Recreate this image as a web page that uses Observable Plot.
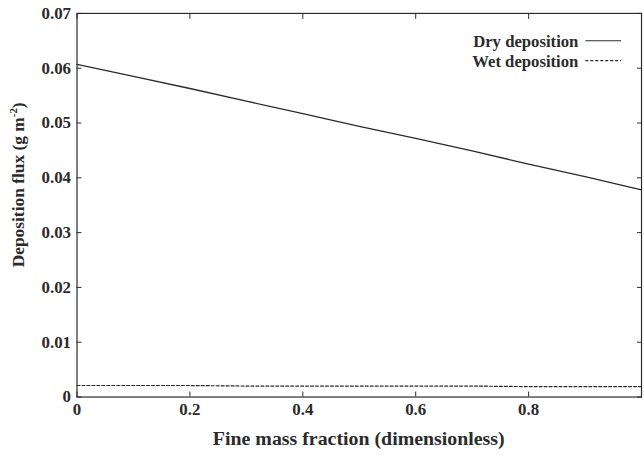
<!DOCTYPE html>
<html>
<head>
<meta charset="utf-8">
<script src="https://cdn.jsdelivr.net/npm/d3@7"></script>
<script src="https://cdn.jsdelivr.net/npm/@observablehq/plot@0.6"></script>
<style>
  html, body { margin: 0; padding: 0; background: #fff; overflow: hidden; }
  #chart { width: 644px; height: 455px; overflow: hidden; }
  svg { font-family: "Liberation Serif", "Times New Roman", serif; }
</style>
</head>
<body>
<div id="chart"></div>
<script>
const fraction = [0, 0.1, 0.2, 0.3, 0.4, 0.5, 0.6, 0.7, 0.8, 0.9, 1.0];
const dryDeposition = [0.0607, 0.0585, 0.0563, 0.0540, 0.0517, 0.0494, 0.0472, 0.0449, 0.0425, 0.0402, 0.0378];
const wetDeposition = [0.0021, 0.0021, 0.0021, 0.0020, 0.0020, 0.0020, 0.0020, 0.0020, 0.0019, 0.0019, 0.0019];
const seriesNames = ["Dry deposition", "Wet deposition"];
const xTicks = [0, 0.2, 0.4, 0.6, 0.8];
const xTickLabels = ["0", "0.2", "0.4", "0.6", "0.8"];
const yTicks = [0, 0.01, 0.02, 0.03, 0.04, 0.05, 0.06, 0.07];
const yTickLabels = ["0", "0.01", "0.02", "0.03", "0.04", "0.05", "0.06", "0.07"];
const xTitle = "Fine mass fraction (dimensionless)";
const yTitle = "Deposition flux (g m-2)";

const rows = [];
fraction.forEach((f, i) => {
  rows.push({series: seriesNames[0], x: f, y: dryDeposition[i]});
  rows.push({series: seriesNames[1], x: f, y: wetDeposition[i]});
});

const ink = "#2b2b2b";
const fmtX = d => xTickLabels[xTicks.indexOf(d)];
const fmtY = d => yTickLabels[yTicks.indexOf(d)];

const plot = Plot.plot({
  width: 648,
  height: 455,
  marginLeft: 77,
  marginRight: 3,
  marginTop: 13,
  marginBottom: 56,
  style: {fontFamily: "'Liberation Serif', serif", fontSize: "17px", fontWeight: "bold", color: ink, background: "#fff"},
  x: {domain: [0, 1]},
  y: {domain: [0, 0.07]},
  marks: [
    Plot.frame({stroke: ink, strokeWidth: 1.2}),
    Plot.axisX({anchor: "bottom", ticks: xTicks, tickFormat: fmtX, tickSize: -5, tickPadding: 11, label: null, stroke: ink, fill: ink}),
    Plot.axisX({anchor: "top", ticks: xTicks, text: null, tickSize: -5, label: null, stroke: ink}),
    Plot.axisY({anchor: "left", ticks: yTicks, tickFormat: fmtY, tickSize: -5, tickPadding: 11, label: null, stroke: ink, fill: ink}),
    Plot.axisY({anchor: "right", ticks: yTicks, text: null, tickSize: -5, label: null, stroke: ink}),
    Plot.line(rows.filter(d => d.series === seriesNames[0]), {x: "x", y: "y", stroke: ink, strokeWidth: 1.3}),
    Plot.line(rows.filter(d => d.series === seriesNames[1]), {x: "x", y: "y", stroke: ink, strokeWidth: 1.2, strokeDasharray: "3,2"})
  ]
});
document.getElementById("chart").appendChild(plot);

// Titles and legend
const svg = d3.select(plot);
svg.append("text")
  .attr("x", 361).attr("y", 448)
  .attr("text-anchor", "middle")
  .attr("font-size", 20).attr("font-weight", "bold").attr("fill", ink)
  .text(xTitle);

const yt = svg.append("text")
  .attr("transform", "translate(24,186) rotate(-90)")
  .attr("text-anchor", "middle")
  .attr("font-size", 17.5).attr("font-weight", "bold").attr("fill", ink);
yt.append("tspan").text("Deposition flux (g m");
yt.append("tspan").attr("font-size", 11).attr("dy", -7).text("-2");
yt.append("tspan").attr("dy", 7).text(")");

const legendDash = [null, "3,2"];
seriesNames.forEach((name, i) => {
  const yy = 47 + i * 20;
  svg.append("text")
    .attr("x", 582).attr("y", yy)
    .attr("text-anchor", "end")
    .attr("font-size", 16.8).attr("font-weight", "bold").attr("fill", ink)
    .text(name);
  svg.append("line")
    .attr("x1", 589).attr("x2", 625)
    .attr("y1", yy - 6).attr("y2", yy - 6)
    .attr("stroke", ink).attr("stroke-width", 1.2)
    .attr("stroke-dasharray", legendDash[i]);
});
</script>
</body>
</html>
